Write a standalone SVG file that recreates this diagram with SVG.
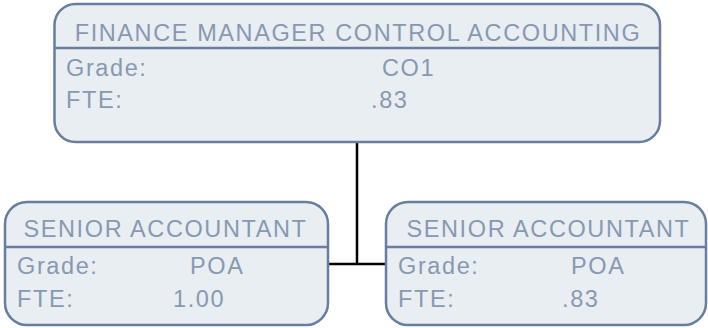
<svg xmlns="http://www.w3.org/2000/svg" width="708" height="328" viewBox="0 0 708 328">
<style>
.box{fill:#e9eef2;stroke:#687ea0;stroke-width:2.5}
.div{stroke:#687ea0;stroke-width:2.5}
.t{font-family:"Liberation Sans",Arial,sans-serif;font-size:23.5px;fill:#8799b2;letter-spacing:1.6px}
.c{text-anchor:middle}
.conn{stroke:#000;stroke-width:2.5;fill:none}
</style>
<rect width="708" height="328" fill="#fff"/>
<g id="connectors">
<path class="conn" d="M357,142 V264 M328,264 H386"/>
</g>
<g id="finance-manager">
<rect class="box" x="54.5" y="4" width="605.5" height="138" rx="21"/>
<line class="div" x1="54.5" y1="48" x2="660" y2="48"/>
<text class="t c" x="358" y="41">FINANCE MANAGER CONTROL ACCOUNTING</text>
<text class="t" x="66" y="76">Grade:</text>
<text class="t" x="382" y="76">CO1</text>
<text class="t" x="66" y="108">FTE:</text>
<text class="t" x="371" y="108">.83</text>
</g>
<g id="senior-accountant-1">
<rect class="box" x="5" y="202" width="323" height="123" rx="22"/>
<line class="div" x1="5" y1="247" x2="328" y2="247"/>
<text class="t c" x="165.5" y="237">SENIOR ACCOUNTANT</text>
<text class="t" x="17" y="274">Grade:</text>
<text class="t" x="190" y="274">POA</text>
<text class="t" x="17" y="307">FTE:</text>
<text class="t" x="173" y="307">1.00</text>
</g>
<g id="senior-accountant-2">
<rect class="box" x="386" y="202" width="320" height="123" rx="22"/>
<line class="div" x1="386" y1="247" x2="706" y2="247"/>
<text class="t c" x="548.5" y="237">SENIOR ACCOUNTANT</text>
<text class="t" x="398" y="274">Grade:</text>
<text class="t" x="571" y="274">POA</text>
<text class="t" x="398" y="307">FTE:</text>
<text class="t" x="562" y="307">.83</text>
</g>
</svg>
